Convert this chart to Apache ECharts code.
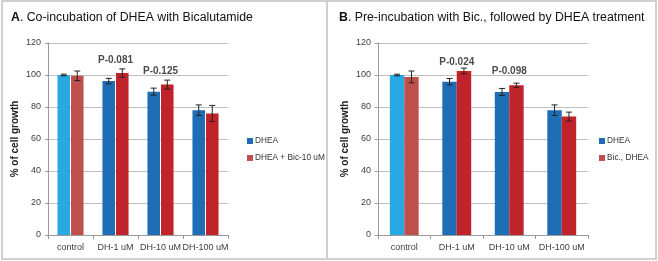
<!DOCTYPE html>
<html>
<head>
<meta charset="utf-8">
<script src="https://cdn.jsdelivr.net/npm/echarts@6/dist/echarts.min.js"></script>
<style>
  html, body { margin: 0; padding: 0; background: #fff; }
  #chart { width: 658px; height: 261px; }
</style>
</head>
<body>
<div id="chart"></div>
<script>
// categories and tick labels
const categories = ['control', 'DH-1 uM', 'DH-10 uM', 'DH-100 uM']
const yTicks = [0, 20, 40, 60, 80, 100, 120]

// panel A: co-incubation
const dheaA = [100, 96.2, 89.6, 78]
const dheaErrA = [0.5, 1.7, 2.2, 3.3]
const bicA = [99.5, 101.2, 94, 76]
const bicErrA = [3, 2.6, 2.8, 5]
const pTextA = ['', 'P-0.081', 'P-0.125', '']
const pLevelA = [null, 106, 99, null]

// panel B: pre-incubation
const dheaB = [100, 95.8, 89.4, 78]
const dheaErrB = [0.5, 2, 2.2, 3.3]
const bicB = [98.8, 102.5, 93.6, 74]
const bicErrB = [3.7, 1.8, 1.3, 2.8]
const pTextB = ['', 'P-0.024', 'P-0.098', '']
const pLevelB = [null, 105, 99, null]

const lightBlue = '#29a9e1'
const darkBlue = '#1f6db5'
const mutedRed = '#c0504d'
const red = '#c1232b'
const font = 'Liberation Sans, Arial'

function blueData(vals) {
    return vals.map((v, i) => i === 0 ? { value: v, itemStyle: { color: lightBlue } } : v)
}
function redData(vals) {
    return vals.map((v, i) => i === 0 ? v : { value: v, itemStyle: { color: red } })
}

// error bar drawn next to the matching bar
function errorSeries(idx, vals, errs, side, catGap, gap) {
    return {
        type: 'custom',
        xAxisIndex: idx,
        yAxisIndex: idx,
        z: 5,
        silent: true,
        data: vals.map((v, i) => [i, v, errs[i]]),
        renderItem: function (params, api) {
            const band = api.size([1, 0])[0]
            const barW = band * (1 - catGap) / (2 + gap)
            const x = api.coord([api.value(0), 0])[0] + side * barW * (1 + gap) / 2
            const v = api.value(1), e = api.value(2)
            const top = api.coord([api.value(0), v + e])[1]
            const bot = api.coord([api.value(0), v - e])[1]
            const style = { stroke: '#222', lineWidth: 1 }
            return {
                type: 'group',
                children: [
                    { type: 'line', shape: { x1: x, y1: top, x2: x, y2: bot }, style: style },
                    { type: 'line', shape: { x1: x - 3, y1: top, x2: x + 3, y2: top }, style: style },
                    { type: 'line', shape: { x1: x - 3, y1: bot, x2: x + 3, y2: bot }, style: style }
                ]
            }
        }
    }
}

function pSeries(idx, texts, levels) {
    return {
        type: 'scatter',
        xAxisIndex: idx,
        yAxisIndex: idx,
        symbolSize: 0,
        silent: true,
        data: levels.map((l, i) => l === null ? null : [i, l]).filter(d => d),
        label: {
            show: true,
            position: 'top',
            distance: 0,
            fontSize: 10,
            fontWeight: 'bold',
            color: '#1a1a1a',
            fontFamily: 'Liberation Sans Narrow, ' + font,
            formatter: p => texts[p.data[0]]
        }
    }
}

function xAxisOf(idx) {
    return {
        type: 'category',
        gridIndex: idx,
        data: categories,
        axisLine: { lineStyle: { color: '#9a9a9a' } },
        axisTick: { show: true, length: 4, lineStyle: { color: '#9a9a9a' } },
        axisLabel: { interval: 0, fontSize: 9, color: '#404040', margin: 8, fontFamily: font }
    }
}
function yAxisOf(idx) {
    return {
        type: 'value',
        gridIndex: idx,
        min: yTicks[0],
        max: yTicks[yTicks.length - 1],
        interval: 20,
        name: '% of cell growth',
        nameLocation: 'middle',
        nameGap: 28,
        nameTextStyle: { fontSize: 10, fontWeight: 'bold', color: '#222', fontFamily: font },
        axisLine: { show: true, lineStyle: { color: '#9a9a9a' } },
        axisTick: { show: true, length: 3, lineStyle: { color: '#9a9a9a' } },
        splitLine: { lineStyle: { color: '#bfbfbf' } },
        axisLabel: { fontSize: 9, color: '#404040', margin: 7, fontFamily: font }
    }
}

function titleOf(left, letter, text) {
    return {
        left: left, top: 7,
        text: '{b|' + letter + '}. ' + text,
        textStyle: { fontSize: 12.3, fontWeight: 'normal', color: '#111', fontFamily: font,
            rich: { b: { fontSize: 12.3, fontWeight: 'bold', color: '#111', fontFamily: font } } }
    }
}

function legendOf(left, names) {
    return {
        left: left, top: 132, orient: 'vertical', itemWidth: 6, itemHeight: 6, itemGap: 9,
        icon: 'rect',
        textStyle: { fontSize: 8.3, color: '#333', padding: [0, 0, 0, -3], fontFamily: font },
        data: names
    }
}

const catGapA = 0.42, gapA = 0.08
const catGapB = 0.45, gapB = 0

const option = {
    animation: false,
    backgroundColor: '#fff',
    graphic: [
        { type: 'rect', shape: { x: 2, y: 1, width: 654, height: 258 }, style: { fill: 'none', stroke: '#d0d0d0', lineWidth: 2 } },
        { type: 'line', shape: { x1: 327, y1: 1, x2: 327, y2: 259 }, style: { stroke: '#d0d0d0', lineWidth: 2 } }
    ],
    title: [
        titleOf(6, 'A', 'Co-incubation of DHEA with Bicalutamide'),
        titleOf(334, 'B', 'Pre-incubation with Bic., followed by DHEA treatment')
    ],
    legend: [
        legendOf(242, ['DHEA', 'DHEA + Bic-10 uM']),
        legendOf(594, ['DHEA', 'Bic., DHEA'])
    ],
    grid: [
        { left: 48, top: 43, width: 180, height: 192 },
        { left: 378, top: 43, width: 210, height: 192 }
    ],
    xAxis: [xAxisOf(0), xAxisOf(1)],
    yAxis: [yAxisOf(0), yAxisOf(1)],
    series: [
        { name: 'DHEA', type: 'bar', xAxisIndex: 0, yAxisIndex: 0, barCategoryGap: catGapA * 100 + '%', barGap: gapA * 100 + '%',
          itemStyle: { color: darkBlue }, data: blueData(dheaA) },
        { name: 'DHEA + Bic-10 uM', type: 'bar', xAxisIndex: 0, yAxisIndex: 0, barCategoryGap: catGapA * 100 + '%', barGap: gapA * 100 + '%',
          itemStyle: { color: mutedRed }, data: redData(bicA) },
        { name: 'DHEA', type: 'bar', xAxisIndex: 1, yAxisIndex: 1, barCategoryGap: catGapB * 100 + '%', barGap: gapB * 100 + '%',
          itemStyle: { color: darkBlue }, data: blueData(dheaB) },
        { name: 'Bic., DHEA', type: 'bar', xAxisIndex: 1, yAxisIndex: 1, barCategoryGap: catGapB * 100 + '%', barGap: gapB * 100 + '%',
          itemStyle: { color: mutedRed }, data: redData(bicB) },
        errorSeries(0, dheaA, dheaErrA, -1, catGapA, gapA),
        errorSeries(0, bicA, bicErrA, 1, catGapA, gapA),
        errorSeries(1, dheaB, dheaErrB, -1, catGapB, gapB),
        errorSeries(1, bicB, bicErrB, 1, catGapB, gapB),
        pSeries(0, pTextA, pLevelA),
        pSeries(1, pTextB, pLevelB)
    ]
}

const chart = echarts.init(document.getElementById('chart'))
chart.setOption(option)
</script>
</body>
</html>
